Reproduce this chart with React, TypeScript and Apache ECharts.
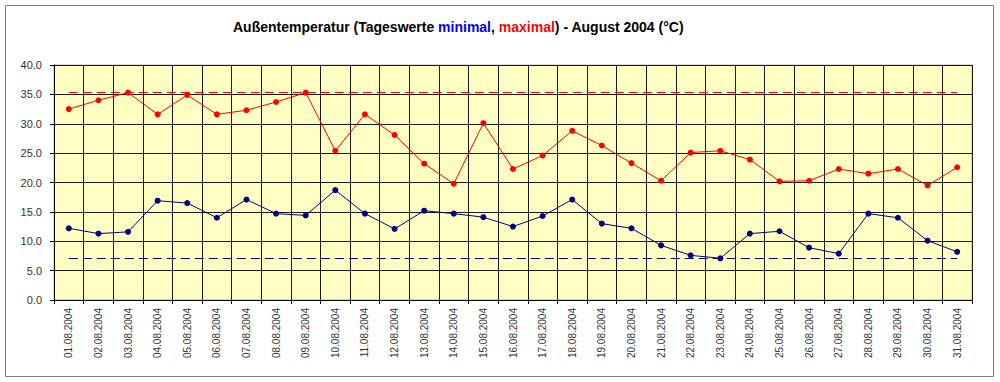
import React, { useEffect, useRef } from "react";
import * as echarts from "echarts";

const days: string[] = [
  "01.08.2004", "02.08.2004", "03.08.2004", "04.08.2004", "05.08.2004", "06.08.2004",
  "07.08.2004", "08.08.2004", "09.08.2004", "10.08.2004", "11.08.2004", "12.08.2004",
  "13.08.2004", "14.08.2004", "15.08.2004", "16.08.2004", "17.08.2004", "18.08.2004",
  "19.08.2004", "20.08.2004", "21.08.2004", "22.08.2004", "23.08.2004", "24.08.2004",
  "25.08.2004", "26.08.2004", "27.08.2004", "28.08.2004", "29.08.2004", "30.08.2004",
  "31.08.2004",
];

const maxTemps: number[] = [
  32.5, 34.0, 35.3, 31.6, 34.9, 31.6, 32.3, 33.7, 35.3, 25.4, 31.6, 28.1,
  23.2, 19.8, 30.1, 22.3, 24.6, 28.8, 26.3, 23.3, 20.3, 25.1, 25.4, 23.9,
  20.2, 20.3, 22.3, 21.5, 22.3, 19.5, 22.6,
];

const minTemps: number[] = [
  12.2, 11.3, 11.6, 16.9, 16.5, 14.0, 17.1, 14.7, 14.4, 18.7, 14.7, 12.1,
  15.2, 14.7, 14.1, 12.5, 14.3, 17.1, 13.0, 12.2, 9.3, 7.6, 7.1, 11.3,
  11.7, 8.9, 7.9, 14.7, 14.0, 10.1, 8.2,
];

const monthMax = Math.max(...maxTemps);
const monthMin = Math.min(...minTemps);

const FONT = "'Liberation Sans', Arial, sans-serif";

export default function App() {
  const ref = useRef<HTMLDivElement>(null);
  useEffect(() => {
    if (!ref.current) return;
    const chart = echarts.init(ref.current, undefined, { renderer: "svg" });
    const last = days.length - 1;
    chart.setOption({
      animation: false,
      backgroundColor: "#ffffff",
      textStyle: { fontFamily: FONT },
      title: {
        left: 228,
        top: 15,
        text: "{a|Außentemperatur (Tageswerte }{b|minimal}{a|, }{c|maximal}{a|) - August 2004 (°C)}",
        textStyle: {
          rich: {
            a: { fontFamily: FONT, fontWeight: "bold", fontSize: 14, color: "#000000" },
            b: { fontFamily: FONT, fontWeight: "bold", fontSize: 14, color: "#0000ff" },
            c: { fontFamily: FONT, fontWeight: "bold", fontSize: 14, color: "#ff0000" },
          },
        },
      },
      graphic: [
        {
          type: "rect",
          shape: { x: 5.5, y: 5.5, width: 988, height: 371 },
          style: { fill: "none", stroke: "#7f7f7f", lineWidth: 1 },
          silent: true,
          z: -10,
        },
      ],
      grid: {
        left: 54,
        right: 28,
        top: 65,
        bottom: 82,
        show: true,
        backgroundColor: "#ffffc4",
        borderColor: "#b0b0b0",
        borderWidth: 1,
      },
      xAxis: {
        type: "category",
        data: days,
        boundaryGap: true,
        axisLine: { lineStyle: { color: "#000000", width: 1 } },
        axisTick: { show: true, length: 4, lineStyle: { color: "#000000" } },
        splitLine: { show: true, lineStyle: { color: "#1a1a1a", width: 1 } },
        axisLabel: {
          rotate: 90,
          interval: 0,
          fontSize: 10,
          color: "#333333",
          fontFamily: FONT,
          margin: 8,
        },
      },
      yAxis: {
        type: "value",
        min: 0,
        max: 40,
        interval: 5,
        axisLine: { show: true, lineStyle: { color: "#000000", width: 1 } },
        axisTick: { show: true, length: 4, lineStyle: { color: "#000000" } },
        splitLine: { show: true, lineStyle: { color: "#1a1a1a", width: 1 } },
        axisLabel: {
          formatter: (v: number) => v.toFixed(1),
          fontSize: 11,
          color: "#333333",
          fontFamily: FONT,
          margin: 12,
        },
      },
      series: [
        {
          name: "maximal",
          type: "line",
          data: maxTemps,
          symbol: "circle",
          symbolSize: 6,
          lineStyle: { color: "#ff0000", width: 1 },
          itemStyle: { color: "#ff0000" },
          z: 5,
          markLine: {
            silent: true,
            symbol: "none",
            label: { show: false },
            lineStyle: { color: "#ff0000", type: [9, 5], width: 1 },
            data: [[{ coord: [0, monthMax] }, { coord: [last, monthMax] }]],
          },
        },
        {
          name: "minimal",
          type: "line",
          data: minTemps,
          symbol: "circle",
          symbolSize: 6,
          lineStyle: { color: "#000080", width: 1 },
          itemStyle: { color: "#000080" },
          z: 5,
          markLine: {
            silent: true,
            symbol: "none",
            label: { show: false },
            lineStyle: { color: "#000080", type: [9, 5], width: 1 },
            data: [[{ coord: [0, monthMin] }, { coord: [last, monthMin] }]],
          },
        },
      ],
    });
    return () => chart.dispose();
  }, []);
  return <div ref={ref} style={{ width: 1000, height: 382, position: "absolute", left: 0, top: 0 }} />;
}
